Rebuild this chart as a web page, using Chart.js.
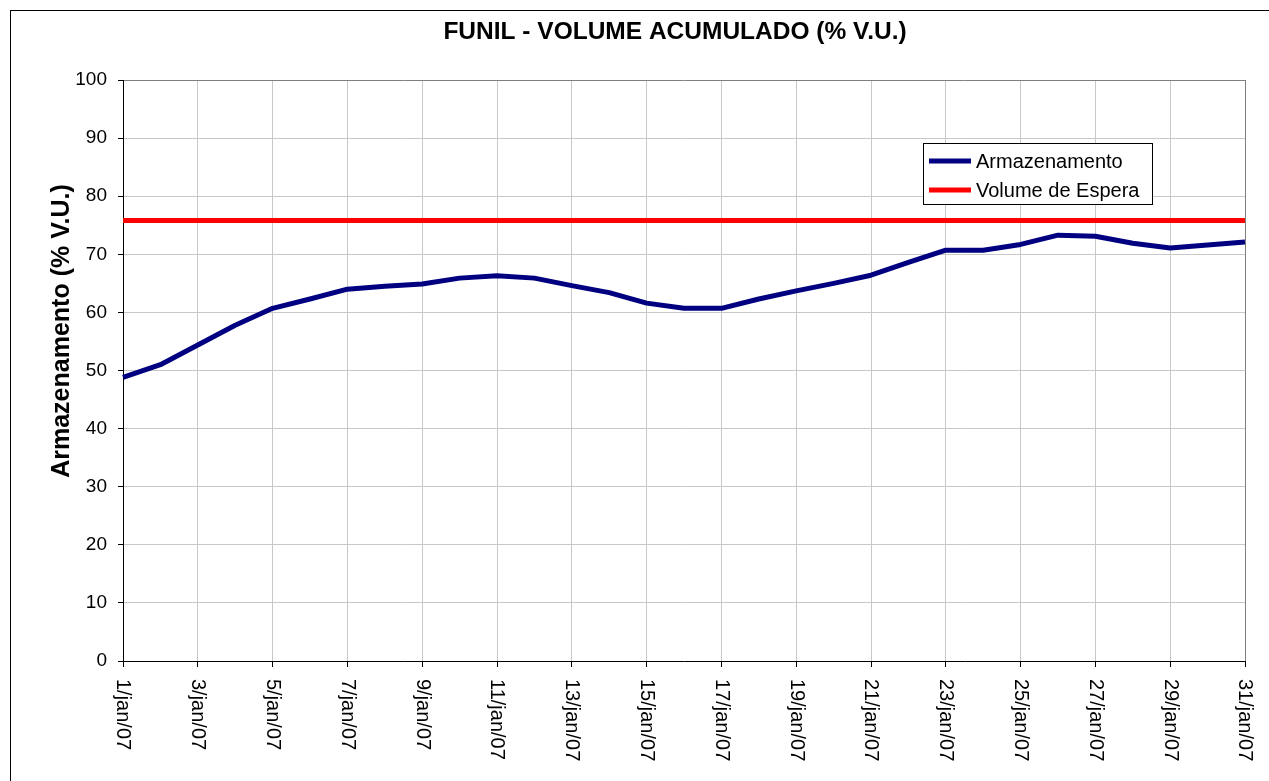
<!DOCTYPE html>
<html>
<head>
<meta charset="utf-8">
<script src="https://cdn.jsdelivr.net/npm/chart.js@4/dist/chart.umd.min.js"></script>
<style>
html,body{margin:0;padding:0;background:#fff;}
#wrap{width:1269px;height:781px;position:relative;}
</style>
</head>
<body>
<div id="wrap"><canvas id="c" width="1269" height="781"></canvas></div>
<script>
const chartTitle = 'FUNIL - VOLUME ACUMULADO (% V.U.)';
const yAxisTitle = 'Armazenamento (% V.U.)';
const seriesNames = ['Armazenamento', 'Volume de Espera'];
const categories = ['1/jan/07','2/jan/07','3/jan/07','4/jan/07','5/jan/07','6/jan/07','7/jan/07','8/jan/07','9/jan/07','10/jan/07',
  '11/jan/07','12/jan/07','13/jan/07','14/jan/07','15/jan/07','16/jan/07','17/jan/07','18/jan/07','19/jan/07','20/jan/07',
  '21/jan/07','22/jan/07','23/jan/07','24/jan/07','25/jan/07','26/jan/07','27/jan/07','28/jan/07','29/jan/07','30/jan/07','31/jan/07'];
const armazenamento = [48.8, 51.0, 54.4, 57.8, 60.7, 62.3, 64.0, 64.5, 64.9, 65.9,
  66.3, 65.9, 64.6, 63.4, 61.6, 60.7, 60.7, 62.3, 63.7, 65.0,
  66.4, 68.6, 70.7, 70.7, 71.7, 73.3, 73.1, 71.9, 71.1, 71.6, 72.1];
const volumeEspera = [75.8, 75.8, 75.8, 75.8, 75.8, 75.8, 75.8, 75.8, 75.8, 75.8,
  75.8, 75.8, 75.8, 75.8, 75.8, 75.8, 75.8, 75.8, 75.8, 75.8,
  75.8, 75.8, 75.8, 75.8, 75.8, 75.8, 75.8, 75.8, 75.8, 75.8, 75.8];
const yMin = 0, yMax = 100, yStep = 10;

const FONT = '"Liberation Sans", Arial, Helvetica, sans-serif';

const decorPlugin = {
  id: 'decor',
  beforeDraw(chart) {
    const ctx = chart.ctx;
    ctx.save();
    ctx.fillStyle = '#fff';
    ctx.fillRect(0, 0, chart.width, chart.height);
    ctx.strokeStyle = '#000';
    ctx.lineWidth = 1;
    ctx.strokeRect(10.5, 10.5, 1300, 800);
    ctx.restore();
  },
  afterDraw(chart) {
    const ctx = chart.ctx;
    const area = chart.chartArea;
    ctx.save();
    // title
    ctx.fillStyle = '#000';
    ctx.font = 'bold 24.5px ' + FONT;
    ctx.textAlign = 'center';
    ctx.textBaseline = 'middle';
    ctx.fillText(chartTitle, 675, 32);
    // y axis title
    ctx.save();
    ctx.translate(62, 331);
    ctx.rotate(-Math.PI / 2);
    ctx.font = 'bold 25px ' + FONT;
    ctx.textAlign = 'center';
    ctx.textBaseline = 'middle';
    ctx.fillText(yAxisTitle, 0, 0);
    ctx.restore();
    // x tick labels (rotated clockwise)
    const xs = chart.scales.x;
    ctx.font = '20px ' + FONT;
    ctx.textAlign = 'left';
    ctx.textBaseline = 'middle';
    categories.forEach((lab, i) => {
      if (i % 2 !== 0) return;
      const x = xs.getPixelForValue(i);
      ctx.save();
      ctx.translate(x, area.bottom + 18);
      ctx.rotate(Math.PI / 2);
      ctx.fillText(lab, 0, 0);
      ctx.restore();
    });
    // legend
    const lx = 923, ly = 143, lw = 229, lh = 61;
    ctx.fillStyle = '#fff';
    ctx.fillRect(lx, ly, lw, lh);
    ctx.strokeStyle = '#000';
    ctx.lineWidth = 1;
    ctx.strokeRect(lx + 0.5, ly + 0.5, lw, lh);
    ctx.font = '20px ' + FONT;
    ctx.textAlign = 'left';
    ctx.textBaseline = 'middle';
    chart.data.datasets.forEach((ds, k) => {
      const y = 161 + k * 29;
      ctx.strokeStyle = ds.borderColor;
      ctx.lineWidth = 5;
      ctx.beginPath();
      ctx.moveTo(929, y);
      ctx.lineTo(971, y);
      ctx.stroke();
      ctx.fillStyle = '#000';
      ctx.fillText(ds.label, 976, y + 1);
    });
    ctx.restore();
  }
};

new Chart(document.getElementById('c'), {
  type: 'line',
  data: {
    labels: categories,
    datasets: [
      { label: seriesNames[0], data: armazenamento, borderColor: '#000080', backgroundColor: '#000080',
        borderWidth: 5, pointRadius: 0, tension: 0, borderJoinStyle: 'round', fill: false },
      { label: seriesNames[1], data: volumeEspera, borderColor: '#ff0000', backgroundColor: '#ff0000',
        borderWidth: 5, pointRadius: 0, tension: 0, fill: false }
    ]
  },
  options: {
    responsive: false,
    animation: false,
    devicePixelRatio: 1,
    layout: { padding: { left: 0, right: 24, top: 80, bottom: 0 } },
    plugins: { legend: { display: false }, title: { display: false }, tooltip: { enabled: false } },
    scales: {
      x: {
        type: 'category',
        offset: false,
        ticks: { display: false, autoSkip: false },
        grid: {
          color: c => (c.index % 2 === 0) ? (c.index === categories.length - 1 ? '#808080' : '#c8c8c8') : 'rgba(0,0,0,0)',
          tickColor: c => (c.index % 2 === 0) ? '#000' : 'rgba(0,0,0,0)',
          tickLength: 6,
          lineWidth: 1
        },
        border: { color: '#000', width: 1 },
        afterFit: s => { s.height = 120; }
      },
      y: {
        min: yMin, max: yMax,
        ticks: { stepSize: yStep, padding: 11, color: '#000', font: { family: FONT, size: 19 } },
        grid: {
          color: c => (c.tick && c.tick.value === yMax) ? '#808080' : '#c8c8c8',
          tickColor: '#000',
          tickLength: 5,
          lineWidth: 1
        },
        border: { color: '#000', width: 1 },
        afterFit: s => { s.width = 123; }
      }
    }
  },
  plugins: [decorPlugin]
});
</script>
</body>
</html>
